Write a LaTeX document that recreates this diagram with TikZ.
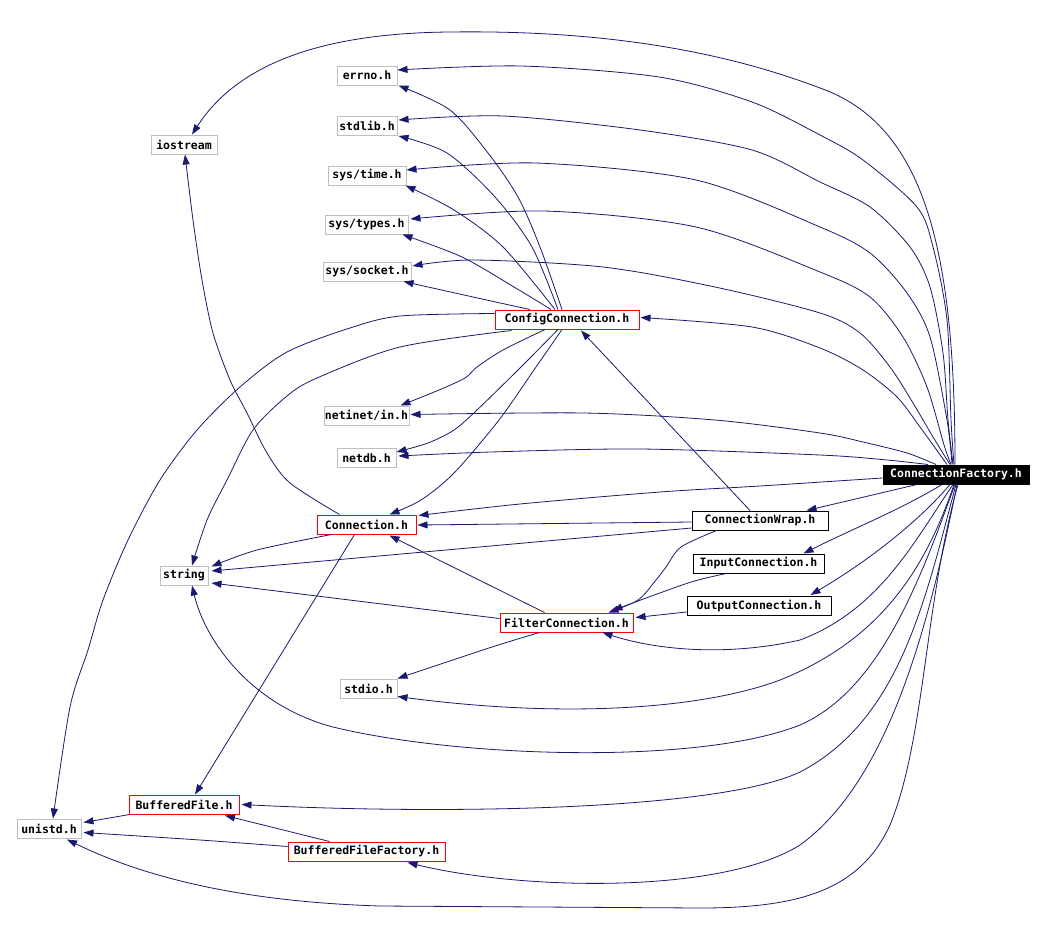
\documentclass[tikz,border=0pt]{standalone}
\usepackage{fontspec}
\setmonofont{DejaVu Sans Mono}
\usetikzlibrary{arrows.meta,calc}
\definecolor{edgecol}{HTML}{191970}
\definecolor{extgray}{HTML}{BFBFBF}
\tikzset{
  box/.style={draw=extgray, line width=1pt, minimum height=19pt, inner sep=0pt,
    font=\ttfamily\bfseries\fontsize{11.5}{12}\selectfont, text=black},
  redbox/.style={box, draw=red},
  blkbox/.style={box, draw=black},
  cfbox/.style={box, draw=black, fill=black, text=white},
  dep/.style={draw=edgecol, line width=0.8pt, -{Triangle[length=10pt,width=7pt]}},
  sm/.style={smooth, tension=0.5},
}
\begin{document}
\begin{tikzpicture}[x=1pt,y=-1pt]
\useasboundingbox (0,0) rectangle (1046,926);
% nodes
\node[box, minimum width=60pt] (errno) at (367,75.5) {errno.h};
\node[box, minimum width=60pt] (stdlib) at (367,126) {stdlib.h};
\node[box, minimum width=78pt] (systime) at (367,175.5) {sys/time.h};
\node[box, minimum width=83pt] (systypes) at (366.5,224.5) {sys/types.h};
\node[box, minimum width=88pt] (syssocket) at (367,271.5) {sys/socket.h};
\node[box, minimum width=66pt] (iostream) at (184,144.5) {iostream};
\node[redbox, minimum width=144pt] (cc) at (567,319.5) {ConfigConnection.h};
\node[box, minimum width=85pt] (netinet) at (366.5,415.5) {netinet/in.h};
\node[box, minimum width=59pt] (netdb) at (366.5,458) {netdb.h};
\node[redbox, minimum width=99pt] (conn) at (366.5,524.5) {Connection.h};
\node[box, minimum width=48pt] (string) at (184,575.5) {string};
\node[cfbox, minimum width=146pt] (cf) at (956,474.5) {ConnectionFactory.h};
\node[blkbox, minimum width=136pt] (cw) at (760,520.5) {ConnectionWrap.h};
\node[blkbox, minimum width=131pt] (ic) at (758.5,563.5) {InputConnection.h};
\node[blkbox, minimum width=144pt] (oc) at (759,606) {OutputConnection.h};
\node[redbox, minimum width=133pt] (fc) at (566.5,622.5) {FilterConnection.h};
\node[box, minimum width=57pt] (stdio) at (368.5,688.5) {stdio.h};
\node[redbox, minimum width=110pt] (bf) at (184,804.5) {BufferedFile.h};
\node[box, minimum width=64pt] (unistd) at (49,828.5) {unistd.h};
\node[redbox, minimum width=157pt] (bff) at (366.5,851.5) {BufferedFileFactory.h};

% ConnectionFactory edges (top fan)
\draw[dep] ($(cf.north)+(-1,0)$) .. controls (955,250) and (925,125) .. (820,88)
  .. controls (720,50) and (600,30) .. (450,32)
  .. controls (330,33) and (240,60) .. ($(iostream.north)+(8,0)$);
\draw[dep] plot[sm] coordinates {($(cf.north)+(-2,0)$) (951,420) (947,320) (933,247) (917,207) (863,160) (820,135) (752,102) (659,77) (521,66) ($(errno.east)+(0,-5.5)$)};
\draw[dep] plot[sm] coordinates {($(cf.north)+(-3,0)$) (948,420) (943,353) (930,287) (910,247) (870,207) (820,182) (752,150) (640,130) (503,116) ($(stdlib.east)+(1,-6)$)};
\draw[dep] plot[sm] coordinates {($(cf.north)+(-4,0)$) (947,420) (930,337) (907,293) (870,253) (820,227) (696,180) (536,163) ($(systime.east)+(0,-5.5)$)};
\draw[dep] plot[sm] coordinates {($(cf.north)+(-5,0)$) (944,445) (927,387) (903,337) (870,297) (820,272) (696,227) (544,211) ($(systypes.east)+(2,-5.5)$)};
\draw[dep] plot[sm] coordinates {($(cf.north)+(-6,0)$) (933,437) (913,403) (890,367) (860,333) (820,313) (715,287) (603,267) (473,260) ($(syssocket.east)+(1,-5.5)$)};
\draw[dep] plot[sm] coordinates {($(cf.north)+(-9,0)$) (920,427) (897,397) (863,370) (820,348) (752,327) ($(cc.east)+(1,-2)$)};
\draw[dep] plot[sm] coordinates {($(cf.north)+(-20,0)$) (907,453) (863,442) (820,433) (715,420) (584,413) ($(netinet.east)+(1,-1)$)};
\draw[dep] plot[sm] coordinates {($(cf.north)+(-28,0)$) (887,460) (820,455) (640,449) (491,452) ($(netdb.east)+(2,-2)$)};
\draw[dep] plot[sm] coordinates {($(cf.west)+(0,3.5)$) (760,486) (660,492) (520,504) ($(conn.north east)+(2,1)$)};

% ConnectionFactory edges (bottom fan)
\draw[dep] ($(cf.south)+(-39,0)$) -- ($(cw.north east)+(-22,0)$);
\draw[dep] ($(cf.south)+(-14,0)$) .. controls (900,510) and (850,530) .. ($(ic.north east)+(-21,0)$);
\draw[dep] ($(cf.south)+(-6,0)$) .. controls (920,520) and (870,560) .. ($(oc.north east)+(-21,-1)$);
\draw[dep] ($(cf.south)+(-3,0)$) .. controls (915,540) and (880,610) .. (800,640)
  .. controls (720,658) and (650,648) .. ($(fc.south)+(36,0)$);
\draw[dep] ($(cf.south)+(-2,0)$) .. controls (925,570) and (880,640) .. (780,680)
  .. controls (700,710) and (560,718) .. ($(stdio.east)+(0,8)$);
\draw[dep] ($(cf.south)+(-1,0)$) .. controls (920,580) and (880,690) .. (800,725)
  .. controls (700,765) and (460,758) .. (333,727)
  .. controls (250,705) and (205,640) .. ($(string.south)+(8,0)$);
\draw[dep] ($(cf.south)+(0,0)$) .. controls (925,600) and (900,720) .. (800,772)
  .. controls (720,810) and (450,815) .. ($(bf.east)+(2,0)$);
\draw[dep] ($(cf.south)+(1,0)$) .. controls (930,620) and (890,780) .. (800,845)
  .. controls (720,895) and (520,890) .. ($(bff.south east)+(-38,1)$);
\draw[dep] ($(cf.south)+(2,0)$) .. controls (925,600) and (925,740) .. (890,825)
  .. controls (860,890) and (800,908) .. (700,908)
  -- (380,906) .. controls (250,902) and (150,880) .. ($(unistd.south)+(18,1)$);

% ConfigConnection edges
\draw[dep] plot[sm] coordinates {($(cc.north)+(-5,0)$) (540,247) (518,197) (488,153) (450,110) ($(errno.south east)+(1,0)$)};
\draw[dep] plot[sm] coordinates {($(cc.north)+(-9,0)$) (532,247) (495,197) (447,153) ($(stdlib.south east)+(1,0)$)};
\draw[dep] plot[sm] coordinates {($(cc.north)+(-12,0)$) (503,247) (454,210) ($(systime.south east)+(-1,0)$)};
\draw[dep] plot[sm] coordinates {($(cc.north)+(-16,0)$) (514,287) (462,257) ($(systypes.south east)+(-6,0)$)};
\draw[dep] plot[sm] coordinates {($(cc.north)+(-37,0)$) (473,297) ($(syssocket.south east)+(-8,0)$)};
\draw[dep] plot[sm] coordinates {($(cc.south)+(-22,0)$) (503,350) (477,367) (465,378) (439,390) ($(netinet.north east)+(-9,0)$)};
\draw[dep] plot[sm] coordinates {($(cc.south)+(-9,0)$) (521,367) (477,410) (454,430) (428,443) ($(netdb.east)+(0,-6)$)};
\draw[dep] plot[sm] coordinates {($(cc.south)+(-5,0)$) (536,367) (499,420) (454,473) (421,500) ($(conn.north)+(23,0)$)};
\draw[dep] plot[sm] coordinates {($(cc.south west)+(17,1)$) (400,347) (317,378) (287,396) (253,430) (227,480) (207,520) ($(string.north)+(8,0)$)};
\draw[dep] plot[sm] coordinates {($(cc.west)+(0,-6)$) (400,316) (350,328) (287,352) (240,387) (197,430) (160,480) (128,540) (103,600) (88,650) (70,707) ($(unistd.north)+(4,0)$)};

% Connection.h edges
\draw[dep] plot[sm] coordinates {($(conn.north west)+(23,0)$) (290,483) (267,453) (247,413) (230,380) (213,333) (202,280) (193,220) ($(iostream.south)+(1,0)$)};
\draw[dep] plot[sm] coordinates {($(conn.south west)+(15,0)$) (257,550) ($(string.east)+(3,-9)$)};
\draw[dep] ($(conn.south)+(-12,0)$) -- ($(bf.north)+(11,0)$);

% ConnectionWrap edges
\draw[dep] ($(cw.west)+(0,1.5)$) -- ($(conn.east)+(1,0.5)$);
\draw[dep] ($(cw.west)+(0,7.5)$) -- ($(string.east)+(3,-4.5)$);
\draw[dep] ($(cw.north)+(-10,0)$) -- ($(cc.south)+(14,1)$);
\draw[dep] plot[sm] coordinates {($(cw.south west)+(25,0)$) (681,547) (666,567) (656,580) (638,600) ($(fc.north)+(42,0)$)};

% Input/Output connection edges
\draw[dep] plot[sm] coordinates {($(ic.south west)+(34,0)$) (688,583) ($(fc.north)+(46,-2)$)};
\draw[dep] ($(oc.west)+(0,6)$) -- ($(fc.east)+(2,-5)$);

% FilterConnection edges
\draw[dep] ($(fc.north)+(-22,0)$) -- ($(conn.south)+(23,1)$);
\draw[dep] ($(fc.west)+(0,-4)$) -- ($(string.east)+(3,7.5)$);
\draw[dep] plot[sm] coordinates {($(fc.south west)+(40,0)$) (492,647) ($(stdio.north east)+(0,0)$)};

% BufferedFile edges
\draw[dep] ($(bf.south west)+(1,0)$) -- ($(unistd.east)+(2,-6)$);
\draw[dep] plot[sm] coordinates {($(bff.west)+(0,-5)$) (200,840) ($(unistd.east)+(2,4)$)};
\draw[dep] ($(bff.north west)+(42,0)$) -- ($(bf.south)+(41,1)$);
\end{tikzpicture}
\end{document}
